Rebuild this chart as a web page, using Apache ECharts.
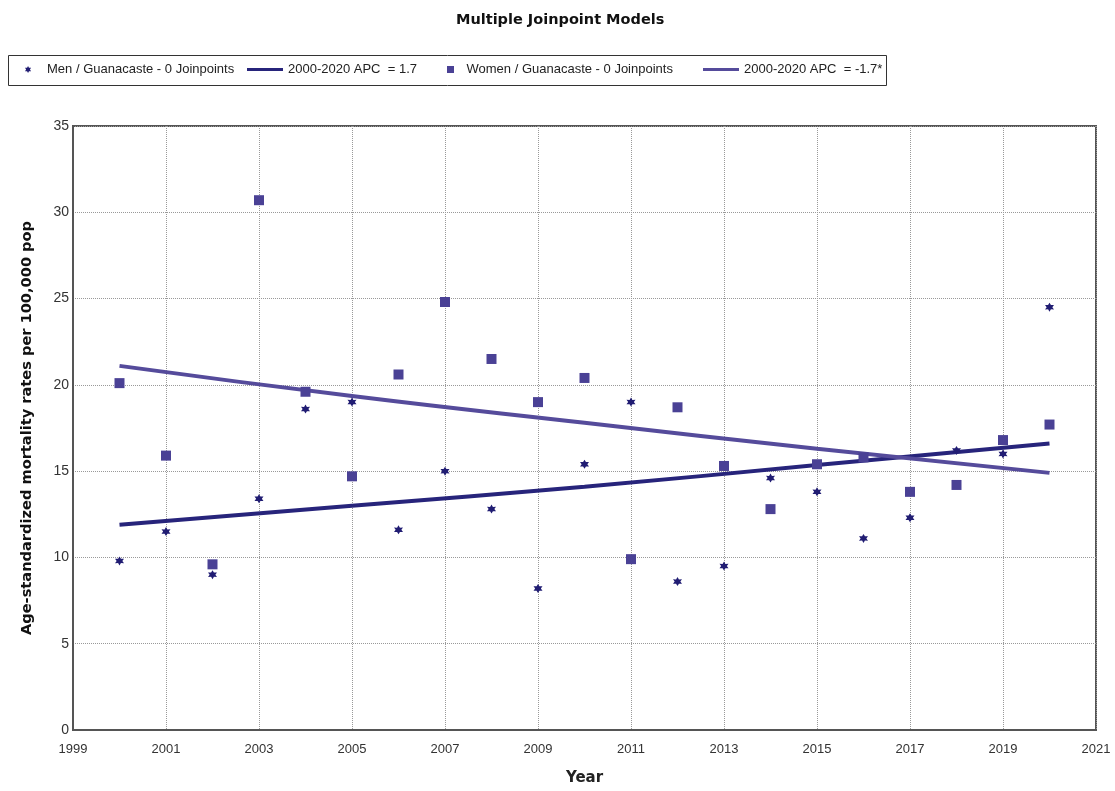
<!DOCTYPE html>
<html>
<head>
<meta charset="utf-8">
<script src="https://cdn.jsdelivr.net/npm/echarts@6/dist/echarts.min.js"></script>
<style>
  html, body { margin: 0; padding: 0; background: #fff; }
  #chart { width: 1115px; height: 791px; }
</style>
</head>
<body>
<div id="chart"></div>
<script>
// observed rates, 2000-2020
var years = [2000, 2001, 2002, 2003, 2004, 2005, 2006, 2007, 2008, 2009, 2010,
             2011, 2012, 2013, 2014, 2015, 2016, 2017, 2018, 2019, 2020]
var menRates = [9.8, 11.5, 9.0, 13.4, 18.6, 19.0, 11.6, 15.0, 12.8, 8.2, 15.4,
                19.0, 8.6, 9.5, 14.6, 13.8, 11.1, 12.3, 16.2, 16.0, 24.5]
var womenRates = [20.1, 15.9, 9.6, 30.7, 19.6, 14.7, 20.6, 24.8, 21.5, 19.0, 20.4,
                  9.9, 18.7, 15.3, 12.8, 15.4, 15.8, 13.8, 14.2, 16.8, 17.7]

// fitted model lines
var fitYears = [2000, 2005, 2010, 2015, 2020]
var menFit = [11.9, 13.0, 14.1, 15.35, 16.6]
var womenFit = [21.1, 19.35, 17.8, 16.3, 14.9]

var yTicks = [0, 5, 10, 15, 20, 25, 30, 35]
var legendNames = ['Men / Guanacaste - 0 Joinpoints', '2000-2020 APC  = 1.7',
                   'Women / Guanacaste - 0 Joinpoints', '2000-2020 APC  = -1.7*']

var X0 = 1999 // axis starts here, ticks every 2 years

var STAR = 'path://M0,-1 L0.275,-0.476 L0.866,-0.5 L0.55,0 L0.866,0.5 L0.275,0.476 L0,1 L-0.275,0.476 L-0.866,0.5 L-0.55,0 L-0.866,-0.5 L-0.275,-0.476 Z'
var SQUARE = 'path://M0,0 H1 V1 H0 Z'
var BAR = 'path://M0,0 H12 V1 H0 Z'

var menDot = '#211d73'
var menLine = '#27247b'
var womenDot = '#4a4195'
var womenLine = '#554b9b'

function pairs(xs, ys) {
  return xs.map(function (x, i) { return [x - X0, ys[i]] })
}

// one legend per entry so each can sit where the original puts it
function legendAt(name, left, width, icon) {
  return {
    left: left,
    top: 63,
    padding: 0,
    itemWidth: width,
    itemHeight: icon === BAR ? 3 : 7,
    symbolKeepAspect: true,
    textStyle: { fontFamily: 'Liberation Sans', fontSize: 13, color: '#222' },
    data: [{ name: name, icon: icon }]
  }
}

var chart = echarts.init(document.getElementById('chart'))

var option = {
  animation: false,
  backgroundColor: '#fff',
  title: {
    text: 'Multiple Joinpoint Models',
    left: 451,
    top: 8,
    textStyle: { fontFamily: 'DejaVu Sans', fontSize: 14.5, fontWeight: 'bold', color: '#111' }
  },
  graphic: [
    {
      type: 'rect',
      shape: { x: 8.5, y: 55.5, width: 878, height: 30 },
      style: { fill: 'none', stroke: '#333', lineWidth: 1 }
    }
  ],
  legend: [
    legendAt(legendNames[0], 25, 28, STAR),
    legendAt(legendNames[1], 247, 36, BAR),
    legendAt(legendNames[2], 447, 22, SQUARE),
    legendAt(legendNames[3], 703, 36, BAR)
  ],
  grid: {
    left: 73,
    right: 19,
    top: 126,
    bottom: 59,
    show: true,
    borderColor: '#555',
    borderWidth: 2
  },
  xAxis: {
    type: 'value',
    min: 0,
    max: 22,
    interval: 2,
    name: 'Year',
    nameLocation: 'middle',
    nameGap: 41,
    nameTextStyle: { fontFamily: 'DejaVu Sans', fontSize: 15, fontWeight: 'bold', color: '#222' },
    axisLine: { lineStyle: { color: '#555', width: 2 } },
    axisTick: { show: false },
    axisLabel: {
      color: '#333',
      fontFamily: 'Liberation Sans',
      fontSize: 13,
      margin: 13,
      formatter: function (v) { return v + X0 }
    },
    splitLine: { lineStyle: { color: '#999', type: 'dotted', width: 1 } }
  },
  yAxis: {
    type: 'value',
    min: yTicks[0],
    max: yTicks[yTicks.length - 1],
    interval: 5,
    name: 'Age-standardized mortality rates per 100,000 pop',
    nameLocation: 'middle',
    nameGap: 38,
    nameTextStyle: { fontFamily: 'DejaVu Sans', fontSize: 14.6, fontWeight: 'bold', color: '#111' },
    axisLine: { show: true, lineStyle: { color: '#555', width: 2 } },
    axisTick: { show: false },
    axisLabel: { color: '#333', fontFamily: 'Liberation Sans', fontSize: 14, margin: 4 },
    splitLine: { lineStyle: { color: '#999', type: 'dotted', width: 1 } }
  },
  series: [
    {
      name: legendNames[0],
      type: 'scatter',
      symbol: STAR,
      symbolSize: 9,
      itemStyle: { color: menDot, opacity: 1 },
      data: pairs(years, menRates),
      z: 3
    },
    {
      name: legendNames[1],
      type: 'line',
      smooth: true,
      showSymbol: false,
      lineStyle: { color: menLine, width: 4 },
      itemStyle: { color: menLine },
      data: pairs(fitYears, menFit),
      z: 2
    },
    {
      name: legendNames[2],
      type: 'scatter',
      symbol: 'rect',
      symbolSize: 10,
      itemStyle: { color: womenDot, opacity: 1 },
      data: pairs(years, womenRates),
      z: 3
    },
    {
      name: legendNames[3],
      type: 'line',
      smooth: true,
      showSymbol: false,
      lineStyle: { color: womenLine, width: 4 },
      itemStyle: { color: womenLine },
      data: pairs(fitYears, womenFit),
      z: 2
    }
  ]
}

chart.setOption(option)
</script>
</body>
</html>
